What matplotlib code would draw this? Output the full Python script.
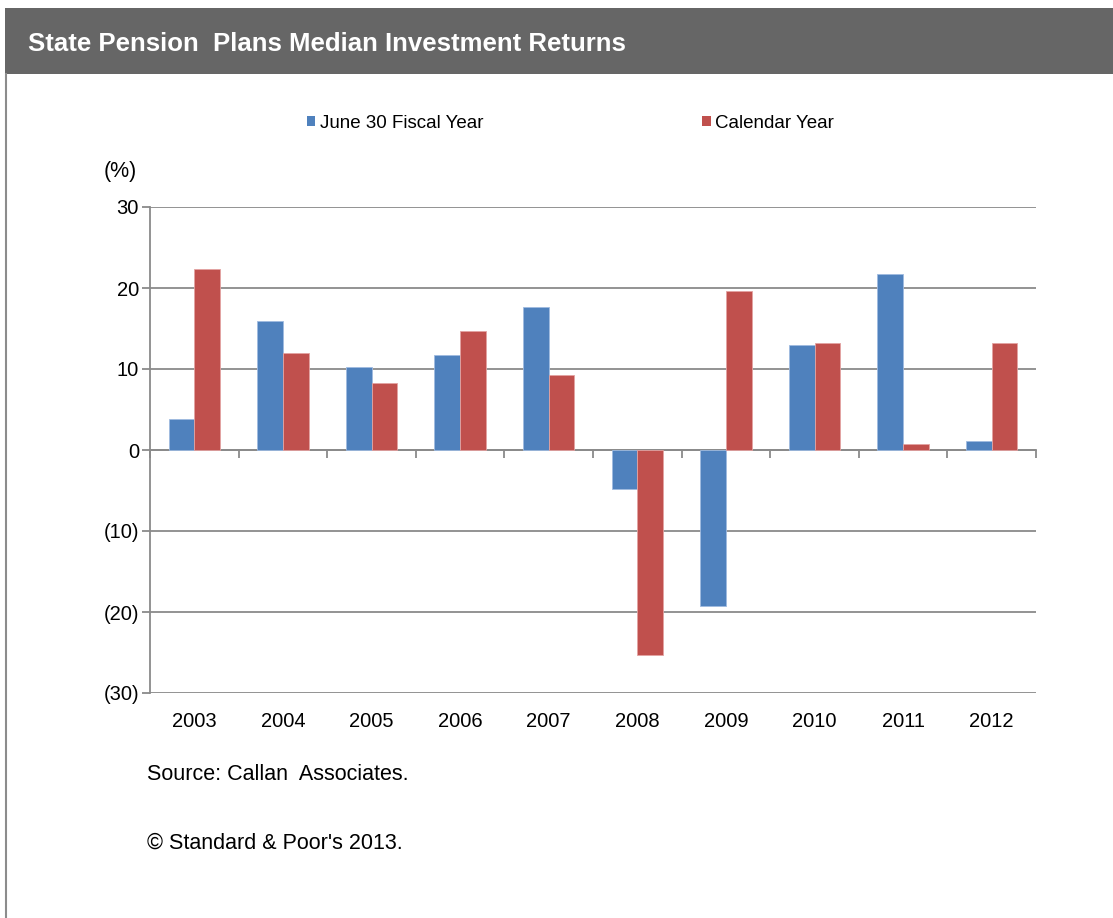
import numpy as np
import matplotlib
matplotlib.use("Agg")
import matplotlib.pyplot as plt
from matplotlib.patches import Rectangle, Patch
from matplotlib.lines import Line2D

years = ["2003", "2004", "2005", "2006", "2007", "2008", "2009", "2010", "2011", "2012"]
fiscal = [3.8, 15.9, 10.2, 11.7, 17.7, -4.8, -19.2, 13.0, 21.7, 1.1]
calendar = [22.4, 12.0, 8.25, 14.7, 9.2, -25.3, 19.6, 13.2, 0.8, 13.2]
yticks = [30, 20, 10, 0, -10, -20, -30]
ylabels = ["30", "20", "10", "0", "(10)", "(20)", "(30)"]

plt.rcParams['font.family'] = ['Liberation Sans', 'DejaVu Sans']

W, H = 1113, 918
fig = plt.figure(figsize=(W / 100, H / 100), dpi=100)

# header bar
fig.patches.append(Rectangle((5 / W, 1 - 74 / H), 1 - 5 / W, 66 / H, transform=fig.transFigure,
                             facecolor="#666666", edgecolor="none", zorder=0))
fig.lines.append(Line2D([5.5 / W, 5.5 / W], [0, 1 - 74 / H], transform=fig.transFigure,
                        color="#8c8c8c", lw=1.5))
fig.text(28 / W, 1 - 44 / H, "State Pension  Plans Median Investment Returns", color="white",
         fontsize=18.5, fontweight="bold", va="center", ha="left")

ax = fig.add_axes([150 / W, 1 - 693 / H, (1036 - 150) / W, (693 - 207) / H])
x = np.arange(len(years))
bw = 0.29
blue = "#4F81BD"
red = "#C0504D"
ax.bar(x - bw / 2, fiscal, bw, color=blue, edgecolor="#9fbbe0", linewidth=0.6, zorder=3)
ax.bar(x + bw / 2, calendar, bw, color=red, edgecolor="#e3a3a2", linewidth=0.6, zorder=3)

ax.set_xlim(-0.5, len(years) - 0.5)
ax.set_ylim(-30, 30)
ax.set_yticks(yticks)
ax.set_yticklabels(ylabels, fontsize=14.5)
ax.yaxis.grid(True, color="#8a8a8a", linewidth=1.3, zorder=0)
ax.set_axisbelow(True)
ax.tick_params(axis="y", length=6, color="#8a8a8a", width=1.3, pad=2)
ax.set_xticks(x)
ax.set_xticklabels(years, fontsize=14.5)
ax.tick_params(axis="x", length=0, pad=14)
for s in ["top", "right", "bottom"]:
    ax.spines[s].set_visible(False)
ax.spines["left"].set_color("#8a8a8a")
ax.spines["left"].set_linewidth(1.3)

sec = ax.secondary_xaxis(0.5)
sec.set_xticks(np.arange(len(years) + 1) - 0.5)
sec.set_xticklabels([])
sec.tick_params(axis="x", length=6, color="#8a8a8a", width=1.3, direction="in")
sec.spines["bottom"].set_color("#8a8a8a")
sec.spines["bottom"].set_linewidth(1.3)
sec.spines["top"].set_color("#8a8a8a")
sec.spines["top"].set_linewidth(1.3)

fig.text(104 / W, 1 - 172 / H, "(%)", fontsize=15.5, va="center", ha="left")

handles = [Patch(facecolor=blue, edgecolor="none"), Patch(facecolor=red, edgecolor="none")]
fig.legend(handles, ["June 30 Fiscal Year", "Calendar Year"], loc="center left",
           bbox_to_anchor=(307 / W, 1 - 123 / H), ncol=2, frameon=False, fontsize=13.5,
           handlelength=0.45, handleheight=0.45, handletextpad=0.25, columnspacing=11.65,
           borderpad=0, borderaxespad=0)

fig.text(147 / W, 1 - 774 / H, "Source: Callan  Associates.", fontsize=15.5, va="center", ha="left")
fig.text(147 / W, 1 - 843 / H, "\u00a9 Standard & Poor's 2013.", fontsize=15.5, va="center", ha="left")

fig.savefig("out.png", dpi=100)
